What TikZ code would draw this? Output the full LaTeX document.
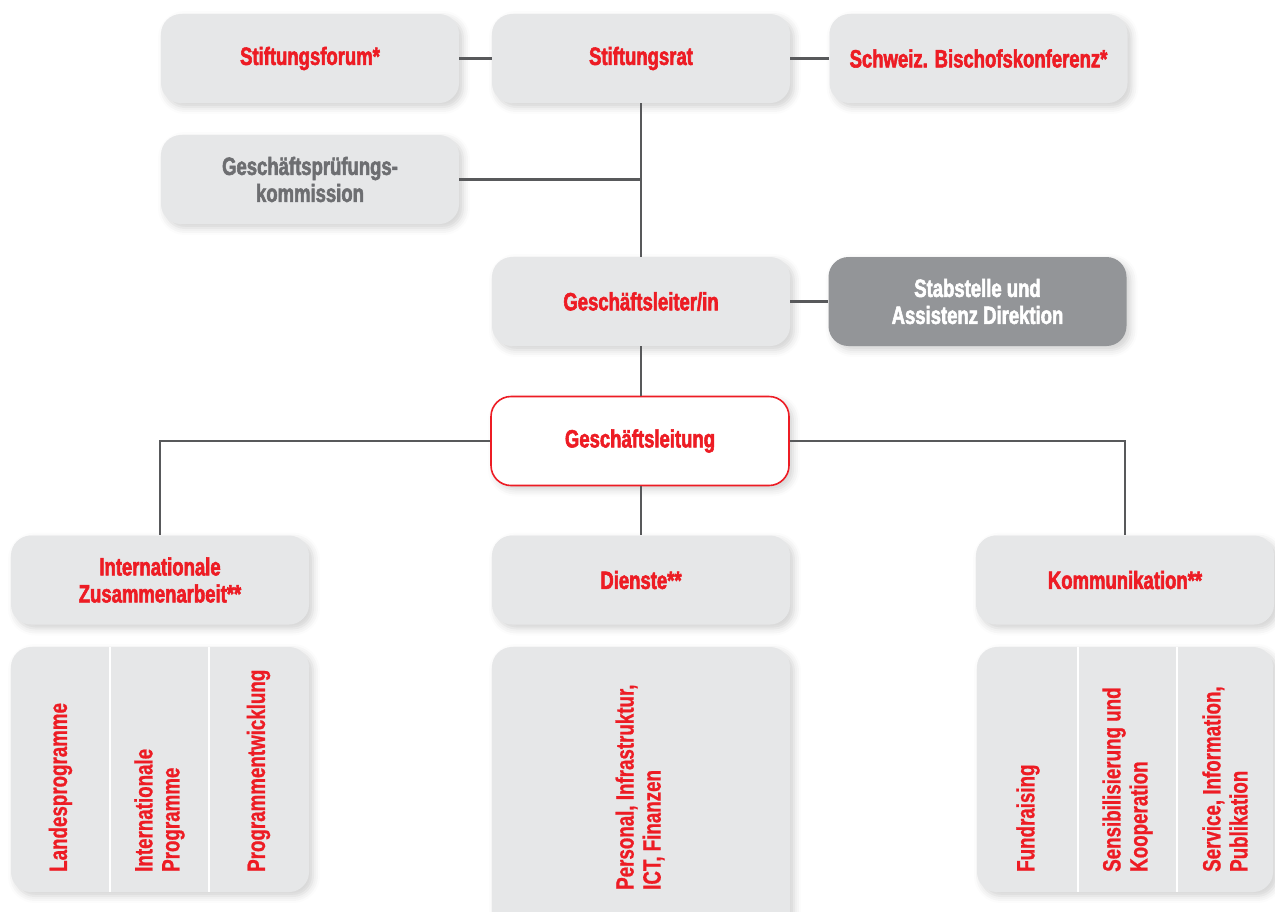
\documentclass[tikz,border=0pt]{standalone}
\usepackage{fontspec}
\setmainfont{Liberation Sans}[FakeStretch=0.75]
\newfontfamily\heavyfont{Liberation Sans Bold}[FakeStretch=0.74, FakeBold=2.2]
\newfontfamily\vfont{Liberation Sans Bold}[FakeStretch=0.75, FakeBold=0.8]
\usetikzlibrary{shadows.blur}
\definecolor{cred}{HTML}{ED1C24}
\definecolor{cfill}{HTML}{E6E7E8}
\definecolor{cdark}{HTML}{939598}
\definecolor{ctext}{HTML}{6D6E71}
\definecolor{cline}{HTML}{58595B}
\tikzset{
  box/.style={rounded corners=20pt, fill=cfill, minimum width=298pt, minimum height=89pt,
    inner sep=0pt, align=center, text=cred,
    font=\heavyfont\fontsize{25}{27}\selectfont,
    blur shadow={shadow xshift=4pt, shadow yshift=-4pt, shadow blur radius=7pt, shadow opacity=18}},
  darkbox/.style={box, fill=cdark, text=white},
  redbox/.style={box, fill=white, draw=cred, line width=1.6pt},
  subbox/.style={rounded corners=20pt, fill=cfill, inner sep=0pt,
    blur shadow={shadow xshift=4pt, shadow yshift=-4pt, shadow blur radius=7pt, shadow opacity=18}},
  vtext/.style={rotate=90, anchor=west, inner sep=0pt, align=left, text=cred,
    font=\vfont\fontsize{25}{27}\selectfont},
  conn/.style={draw=cline, line width=2.2pt},
  divider/.style={draw=white, line width=2pt}
}
\begin{document}
\begin{tikzpicture}[x=1pt, y=-1pt]
\useasboundingbox (0,0) rectangle (1275,911);

% top row
\node[box] (sf) at (310,58.5) {Stiftungsforum*};
\node[box] (sr) at (641,58.5) {Stiftungsrat};
\node[box] (sbk) at (978.5,58.5) {Schweiz. Bischofskonferenz*};
\node[box, text=ctext] (gpk) at (310,179.5) {Geschäftsprüfungs-\\kommission};

% management
\node[box] (gl) at (641,301.5) {Geschäftsleiter/in};
\node[darkbox] (stab) at (977.5,301.5) {Stabstelle und\\Assistenz Direktion};
\node[redbox] (gle) at (640,441) {Geschäftsleitung};

% divisions
\node[box] (iz) at (160,580) {Internationale\\Zusammenarbeit**};
\node[box] (di) at (641,580) {Dienste**};
\node[box] (kom) at (1125,580) {Kommunikation**};

% sub boxes
\node[subbox, minimum width=298pt, minimum height=245pt] (izs) at (160,769.5) {};
\node[subbox, minimum width=298pt, minimum height=290pt] (dis) at (641,792) {};
\node[subbox, minimum width=296pt, minimum height=245pt] (koms) at (1125,769.5) {};

\coordinate (d1t) at (110,647); \coordinate (d1b) at (110,892);
\coordinate (d2t) at (209,647); \coordinate (d2b) at (209,892);
\coordinate (d3t) at (1078,647); \coordinate (d3b) at (1078,892);
\coordinate (d4t) at (1177,647); \coordinate (d4b) at (1177,892);
\draw[divider] (d1t) -- (d1b);
\draw[divider] (d2t) -- (d2b);
\draw[divider] (d3t) -- (d3b);
\draw[divider] (d4t) -- (d4b);

\node[vtext] (t1) at (60.5,872) {Landesprogramme};
\node[vtext] (t2) at (159.5,872) {Internationale\\Programme};
\node[vtext] (t3) at (258.5,872) {Programmentwicklung};
\node[vtext] (t4) at (640,890) {Personal, Infrastruktur,\\ICT, Finanzen};
\node[vtext] (t5) at (1028,872) {Fundraising};
\node[vtext] (t6) at (1127.5,872) {Sensibilisierung und\\Kooperation};
\node[vtext] (t7) at (1225,872) {Service, Information,\\Publikation};

% connectors
\draw[conn] (sf.east) -- (sr.west);
\draw[conn] (sr.east) -- (sbk.west);
\draw[conn] (sr.south) -- (gl.north);
\draw[conn] (gpk.east) -- (gpk.east -| sr.south);
\draw[conn] (gl.east) -- (stab.west);
\draw[conn] (gl.south) -- (gle.north -| gl.south);
\draw[conn] (gle.west) -| (iz.north);
\draw[conn] (gle.east) -| (kom.north);
\draw[conn] (gle.south -| di.north) -- (di.north);
\end{tikzpicture}
\end{document}
